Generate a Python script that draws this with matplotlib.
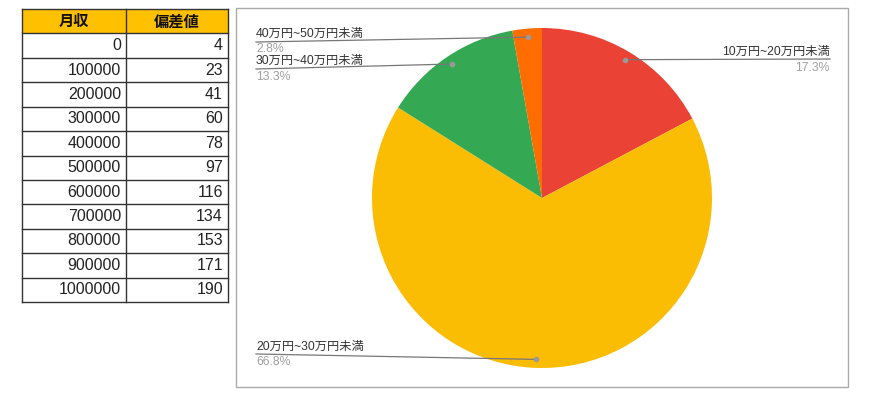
import matplotlib.pyplot as plt
import numpy as np
from matplotlib.patches import Rectangle

plt.rcParams['font.family'] = ['Liberation Sans', 'Noto Sans CJK JP']

# table data
col_headers = ['月収', '偏差値']
income = [0, 100000, 200000, 300000, 400000, 500000, 600000, 700000, 800000, 900000, 1000000]
deviation = [4, 23, 41, 60, 78, 97, 116, 134, 153, 171, 190]

# pie data
brackets = ['10万円~20万円未満', '20万円~30万円未満', '30万円~40万円未満', '40万円~50万円未満']
shares = [17.3, 66.8, 13.3, 2.8]
pie_colors = ['#EA4335', '#FBBC04', '#34A853', '#FF6D01']

W, H = 870, 401
fig = plt.figure(figsize=(W / 100, H / 100), dpi=100)
ax = fig.add_axes([0, 0, 1, 1])


def Y(y):
    # pixel row (from top) -> data y
    return H - y


# ---- table ----
tx0, tx1, tmid = 22, 228, 126
ty0, ty1 = 9, 302
nrows = len(income) + 1
rh = (ty1 - ty0) / nrows

ax.add_patch(Rectangle((tx0, Y(ty0 + rh)), tx1 - tx0, rh, facecolor='#FFC000', edgecolor='none', zorder=1))
for i in range(nrows + 1):
    yy = Y(ty0 + i * rh)
    ax.plot([tx0, tx1], [yy, yy], color='#333333', lw=1.0, zorder=2)
for xx in (tx0, tmid, tx1):
    ax.plot([xx, xx], [Y(ty0), Y(ty1)], color='#333333', lw=1.0, zorder=2)

ax.text((tx0 + tmid) / 2, Y(ty0 + rh / 2), col_headers[0], ha='center', va='center',
        fontsize=11, fontweight='bold', color='#111111', family='Noto Sans CJK JP')
ax.text((tmid + tx1) / 2, Y(ty0 + rh / 2), col_headers[1], ha='center', va='center',
        fontsize=11, fontweight='bold', color='#111111', family='Noto Sans CJK JP')
for i, (inc, dev) in enumerate(zip(income, deviation)):
    yc = Y(ty0 + (i + 1.5) * rh)
    ax.text(tmid - 5, yc, str(inc), ha='right', va='center', fontsize=11.5, color='#222222')
    ax.text(tx1 - 5, yc, str(dev), ha='right', va='center', fontsize=11.5, color='#222222')

# ---- chart box ----
ax.add_patch(Rectangle((236, Y(387)), 848 - 236, 387 - 8, facecolor='white',
                       edgecolor='#AAAAAA', lw=1.0, zorder=0))

# ---- pie ----
cx, cy, r = 542, 198, 170
ax.pie(shares, colors=pie_colors, startangle=90, counterclock=False,
       center=(cx, Y(cy)), radius=r, wedgeprops=dict(linewidth=0))

# label dots on each slice's mid angle
cum = np.cumsum([0] + shares[:-1])
mids = (cum + np.array(shares) / 2) / sum(shares)
ang = np.deg2rad(90 - 360 * mids)
dot_x = cx + 0.95 * r * np.cos(ang)
dot_y = cy - 0.95 * r * np.sin(ang)

# label layout: (text x, name row y, line y, pct row y, alignment)
label_pos = [
    (830, 52, 59, 68, 'right'),
    (256, 347, 354, 362, 'left'),
    (256, 61, 69, 77, 'left'),
    (256, 34, 42, 49, 'left'),
]
for name, val, (lx, ny, ly, py, ha), dx, dy in zip(brackets, shares, label_pos, dot_x, dot_y):
    ax.plot([lx, dx], [Y(ly), Y(dy)], color='#777777', lw=0.9, zorder=3)
    ax.plot(dx, Y(dy), 'o', color='#999999', ms=3, zorder=4)
    ax.text(lx, Y(ny), name, ha=ha, va='center', fontsize=8.8, color='#333333', zorder=5)
    ax.text(lx, Y(py), f'{val:.1f}%', ha=ha, va='center', fontsize=8.8, color='#A0A0A0', zorder=5)

ax.set_xlim(0, W)
ax.set_ylim(0, H)
ax.set_aspect('auto')
ax.axis('off')

fig.savefig('out.png', dpi=100)
